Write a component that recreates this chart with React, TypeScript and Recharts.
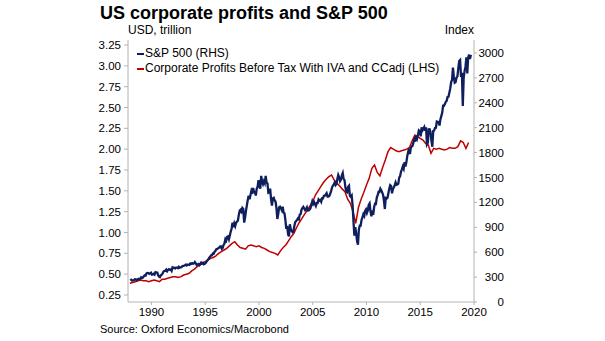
import { ComposedChart, Line, XAxis, YAxis } from 'recharts';

// S&P 500, monthly from Jan 1988 (a few months use the visible intramonth extreme)
const spStartYear = 1988;
const spMonthly = [
  257, 268, 259, 261, 262, 274, 272, 262, 272, 279, 274, 278,
  297, 289, 295, 310, 321, 318, 346, 351, 349, 340, 346, 353,
  329, 332, 340, 331, 361, 358, 356, 323, 306, 300, 322, 330,
  344, 367, 375, 375, 390, 371, 388, 395, 388, 392, 375, 417,
  409, 413, 404, 415, 415, 408, 424, 414, 418, 419, 431, 436,
  439, 443, 452, 440, 450, 451, 448, 464, 459, 468, 462, 466,
  482, 467, 446, 451, 457, 444, 458, 475, 463, 472, 454, 459,
  470, 487, 501, 515, 533, 545, 562, 562, 584, 582, 605, 616,
  636, 640, 646, 654, 669, 671, 640, 652, 687, 705, 757, 741,
  786, 791, 757, 801, 848, 885, 954, 899, 947, 915, 955, 970,
  980, 1049, 1102, 1112, 1091, 1134, 1121, 957, 1017, 1099, 1164, 1229,
  1280, 1238, 1286, 1335, 1302, 1373, 1329, 1320, 1283, 1363, 1389, 1469,
  1394, 1366, 1520, 1452, 1421, 1455, 1431, 1518, 1437, 1429, 1315, 1320,
  1366, 1240, 1160, 1249, 1256, 1224, 1211, 1134, 1000, 1060, 1139, 1148,
  1130, 1107, 1147, 1077, 1067, 990, 880, 916, 815, 790, 936, 880,
  856, 841, 848, 917, 964, 975, 990, 1008, 996, 1051, 1058, 1112,
  1131, 1145, 1126, 1107, 1121, 1141, 1102, 1104, 1115, 1130, 1174, 1212,
  1181, 1204, 1181, 1157, 1192, 1191, 1234, 1220, 1229, 1207, 1249, 1248,
  1280, 1281, 1295, 1311, 1270, 1270, 1277, 1304, 1336, 1378, 1401, 1418,
  1438, 1407, 1421, 1482, 1531, 1503, 1455, 1474, 1527, 1555, 1481, 1468,
  1379, 1331, 1323, 1386, 1400, 1280, 1267, 1283, 1166, 969, 800, 903,
  826, 735, 690, 873, 919, 919, 987, 1021, 1057, 1036, 1096, 1115,
  1074, 1104, 1169, 1187, 1089, 1031, 1102, 1049, 1141, 1183, 1181, 1258,
  1286, 1327, 1326, 1364, 1345, 1321, 1292, 1219, 1120, 1253, 1247, 1258,
  1312, 1366, 1408, 1398, 1310, 1362, 1379, 1407, 1441, 1412, 1416, 1426,
  1498, 1515, 1569, 1598, 1631, 1606, 1686, 1633, 1682, 1757, 1806, 1848,
  1783, 1859, 1872, 1884, 1924, 1960, 1931, 2003, 1972, 2018, 2068, 2059,
  1995, 2105, 2068, 2086, 2107, 2063, 2104, 1900, 1920, 2079, 2080, 2044,
  1940, 1870, 2060, 2065, 2097, 2099, 2174, 2171, 2168, 2126, 2199, 2239,
  2279, 2364, 2363, 2384, 2412, 2423, 2470, 2472, 2519, 2575, 2648, 2674,
  2824, 2714, 2641, 2648, 2705, 2718, 2816, 2902, 2914, 2712, 2760, 2360,
  2704, 2784, 2834, 2946, 2752, 2942, 2980, 2926, 2977,
];

// Corporate profits before tax with IVA and CCadj, USD trillion, quarterly
const profitDates = [
  1988.0, 1988.25, 1988.5, 1988.75, 1989.0, 1989.25, 1989.5, 1989.75,
  1990.0, 1990.25, 1990.5, 1990.75, 1991.0, 1991.25, 1991.5, 1991.75,
  1992.0, 1992.25, 1992.5, 1992.75, 1993.0, 1993.25, 1993.5, 1993.75,
  1994.0, 1994.25, 1994.5, 1994.75, 1995.0, 1995.25, 1995.5, 1995.75,
  1996.0, 1996.25, 1996.5, 1996.75, 1997.0, 1997.25, 1997.5, 1997.75,
  1998.0, 1998.25, 1998.5, 1998.75, 1999.0, 1999.25, 1999.5, 1999.75,
  2000.0, 2000.25, 2000.5, 2000.75, 2001.0, 2001.25, 2001.5, 2001.75,
  2002.0, 2002.25, 2002.5, 2002.75, 2003.0, 2003.25, 2003.5, 2003.75,
  2004.0, 2004.25, 2004.5, 2004.75, 2005.0, 2005.25, 2005.5, 2005.75,
  2006.0, 2006.25, 2006.5, 2006.75, 2007.0, 2007.25, 2007.5, 2007.75,
  2008.0, 2008.25, 2008.5, 2008.75, 2009.0, 2009.25, 2009.5, 2009.75,
  2010.0, 2010.25, 2010.5, 2010.75, 2011.0, 2011.25, 2011.5, 2011.75,
  2012.0, 2012.25, 2012.5, 2012.75, 2013.0, 2013.25, 2013.5, 2013.75,
  2014.0, 2014.25, 2014.5, 2014.75, 2015.0, 2015.25, 2015.5, 2015.75,
  2016.0, 2016.25, 2016.5, 2016.75, 2017.0, 2017.25, 2017.5, 2017.75,
  2018.0, 2018.25, 2018.5, 2018.75, 2019.0, 2019.25, 2019.5,
];
const profitValues = [
  0.39, 0.40, 0.41, 0.42, 0.43, 0.42, 0.42, 0.41,
  0.42, 0.43, 0.42, 0.41, 0.44, 0.44, 0.45, 0.46,
  0.47, 0.47, 0.46, 0.47, 0.49, 0.50, 0.51, 0.54,
  0.56, 0.59, 0.61, 0.63, 0.65, 0.67, 0.69, 0.70,
  0.72, 0.75, 0.77, 0.79, 0.81, 0.84, 0.87, 0.89,
  0.85, 0.82, 0.81, 0.80, 0.84, 0.85, 0.84, 0.83,
  0.84, 0.82, 0.81, 0.79, 0.77, 0.76, 0.75, 0.73,
  0.78, 0.82, 0.85, 0.90, 0.95, 0.99, 1.06, 1.12,
  1.17, 1.22, 1.27, 1.32, 1.37, 1.45, 1.50, 1.55,
  1.60, 1.64, 1.67, 1.69, 1.63, 1.59, 1.56, 1.52,
  1.49, 1.40, 1.35, 1.25, 1.11, 1.30, 1.40, 1.48,
  1.57, 1.65, 1.77, 1.81, 1.72, 1.68, 1.78, 1.87,
  1.97, 2.02, 2.00, 1.98, 1.97, 1.98, 1.99, 2.00,
  2.02, 2.10, 2.17, 2.15, 2.13, 2.11, 2.07, 2.05,
  1.95, 2.01, 2.00, 2.01, 2.00, 1.99, 2.00, 2.02,
  2.01, 2.01, 2.03, 2.10, 2.08, 2.01, 2.08,
];

const yearTicks = [1990, 1995, 2000, 2005, 2010, 2015, 2020];
const lhsTicks = [0.25, 0.5, 0.75, 1, 1.25, 1.5, 1.75, 2, 2.25, 2.5, 2.75, 3, 3.25];
const rhsTicks = [0, 300, 600, 900, 1200, 1500, 1800, 2100, 2400, 2700, 3000];

const spData = spMonthly.map((v, i) => ({ t: spStartYear + (i + 0.5) / 12, sp: v }));
const profitData = profitDates.map((t, i) => ({ t, profit: profitValues[i] }));

const NAVY = '#0f1f5e';
const RED = '#c00000';
const AXIS = '#b3b3b3';
const FONT = '"Liberation Sans", Arial, sans-serif';
const TICK_FONT = 11.5;

const RightTick = (props: any) => {
  const { x, y, payload } = props;
  return (
    <text x={x + 25} y={y} dy="0.355em" textAnchor="end" fontSize={TICK_FONT} fill="#000">
      {payload.value}
    </text>
  );
};

export default function App() {
  return (
    <div style={{ position: 'absolute', left: 0, top: 0, width: 605, height: 341, background: '#fff', fontFamily: FONT, color: '#000' }}>
      <div style={{ position: 'absolute', left: 100, top: 4, fontSize: 18, lineHeight: '18px', fontWeight: 'bold', whiteSpace: 'nowrap' }}>
        US corporate profits and S&amp;P 500
      </div>
      <div style={{ position: 'absolute', left: 128, top: 24, fontSize: 12, lineHeight: '12px', whiteSpace: 'nowrap' }}>USD, trillion</div>
      <div style={{ position: 'absolute', right: 605 - 474, top: 24, fontSize: 12, lineHeight: '12px', whiteSpace: 'nowrap' }}>Index</div>

      <ComposedChart width={605} height={341} margin={{ top: 40, right: 91, bottom: 19, left: 88 }}>
        <XAxis
          dataKey="t"
          type="number"
          domain={[1987.82, 2020]}
          ticks={yearTicks}
          allowDataOverflow
          height={20}
          tickSize={3}
          tickMargin={3}
          stroke={AXIS}
          tick={{ fill: '#000', fontSize: TICK_FONT }}
        />
        <YAxis
          yAxisId="l"
          domain={[0.166, 3.31]}
          ticks={lhsTicks}
          allowDataOverflow
          width={40}
          tickSize={4}
          tickMargin={3}
          stroke={AXIS}
          tick={{ fill: '#000', fontSize: TICK_FONT }}
          tickFormatter={(v: number) => v.toFixed(2)}
        />
        <YAxis
          yAxisId="r"
          orientation="right"
          domain={[0, 3156]}
          ticks={rhsTicks}
          allowDataOverflow
          width={40}
          tickSize={3}
          stroke={AXIS}
          tick={<RightTick />}
        />
        <Line
          yAxisId="l"
          data={profitData}
          dataKey="profit"
          stroke={RED}
          strokeWidth={1.5}
          dot={false}
          isAnimationActive={false}
        />
        <Line
          yAxisId="r"
          data={spData}
          dataKey="sp"
          stroke={NAVY}
          strokeWidth={2.3}
          dot={false}
          isAnimationActive={false}
        />
      </ComposedChart>

      <div style={{ position: 'absolute', left: 137, top: 46, fontSize: 12, lineHeight: '15px', whiteSpace: 'nowrap' }}>
        <div style={{ display: 'flex', alignItems: 'center' }}>
          <span style={{ display: 'inline-block', width: 7, height: 2, background: NAVY, marginRight: 1 }} />
          S&amp;P 500 (RHS)
        </div>
        <div style={{ display: 'flex', alignItems: 'center' }}>
          <span style={{ display: 'inline-block', width: 7, height: 2, background: RED, marginRight: 1 }} />
          Corporate Profits Before Tax With IVA and CCadj (LHS)
        </div>
      </div>

      <div style={{ position: 'absolute', left: 100, top: 324, fontSize: 11, lineHeight: '11px', whiteSpace: 'nowrap' }}>
        Source: Oxford Economics/Macrobond
      </div>
    </div>
  );
}
